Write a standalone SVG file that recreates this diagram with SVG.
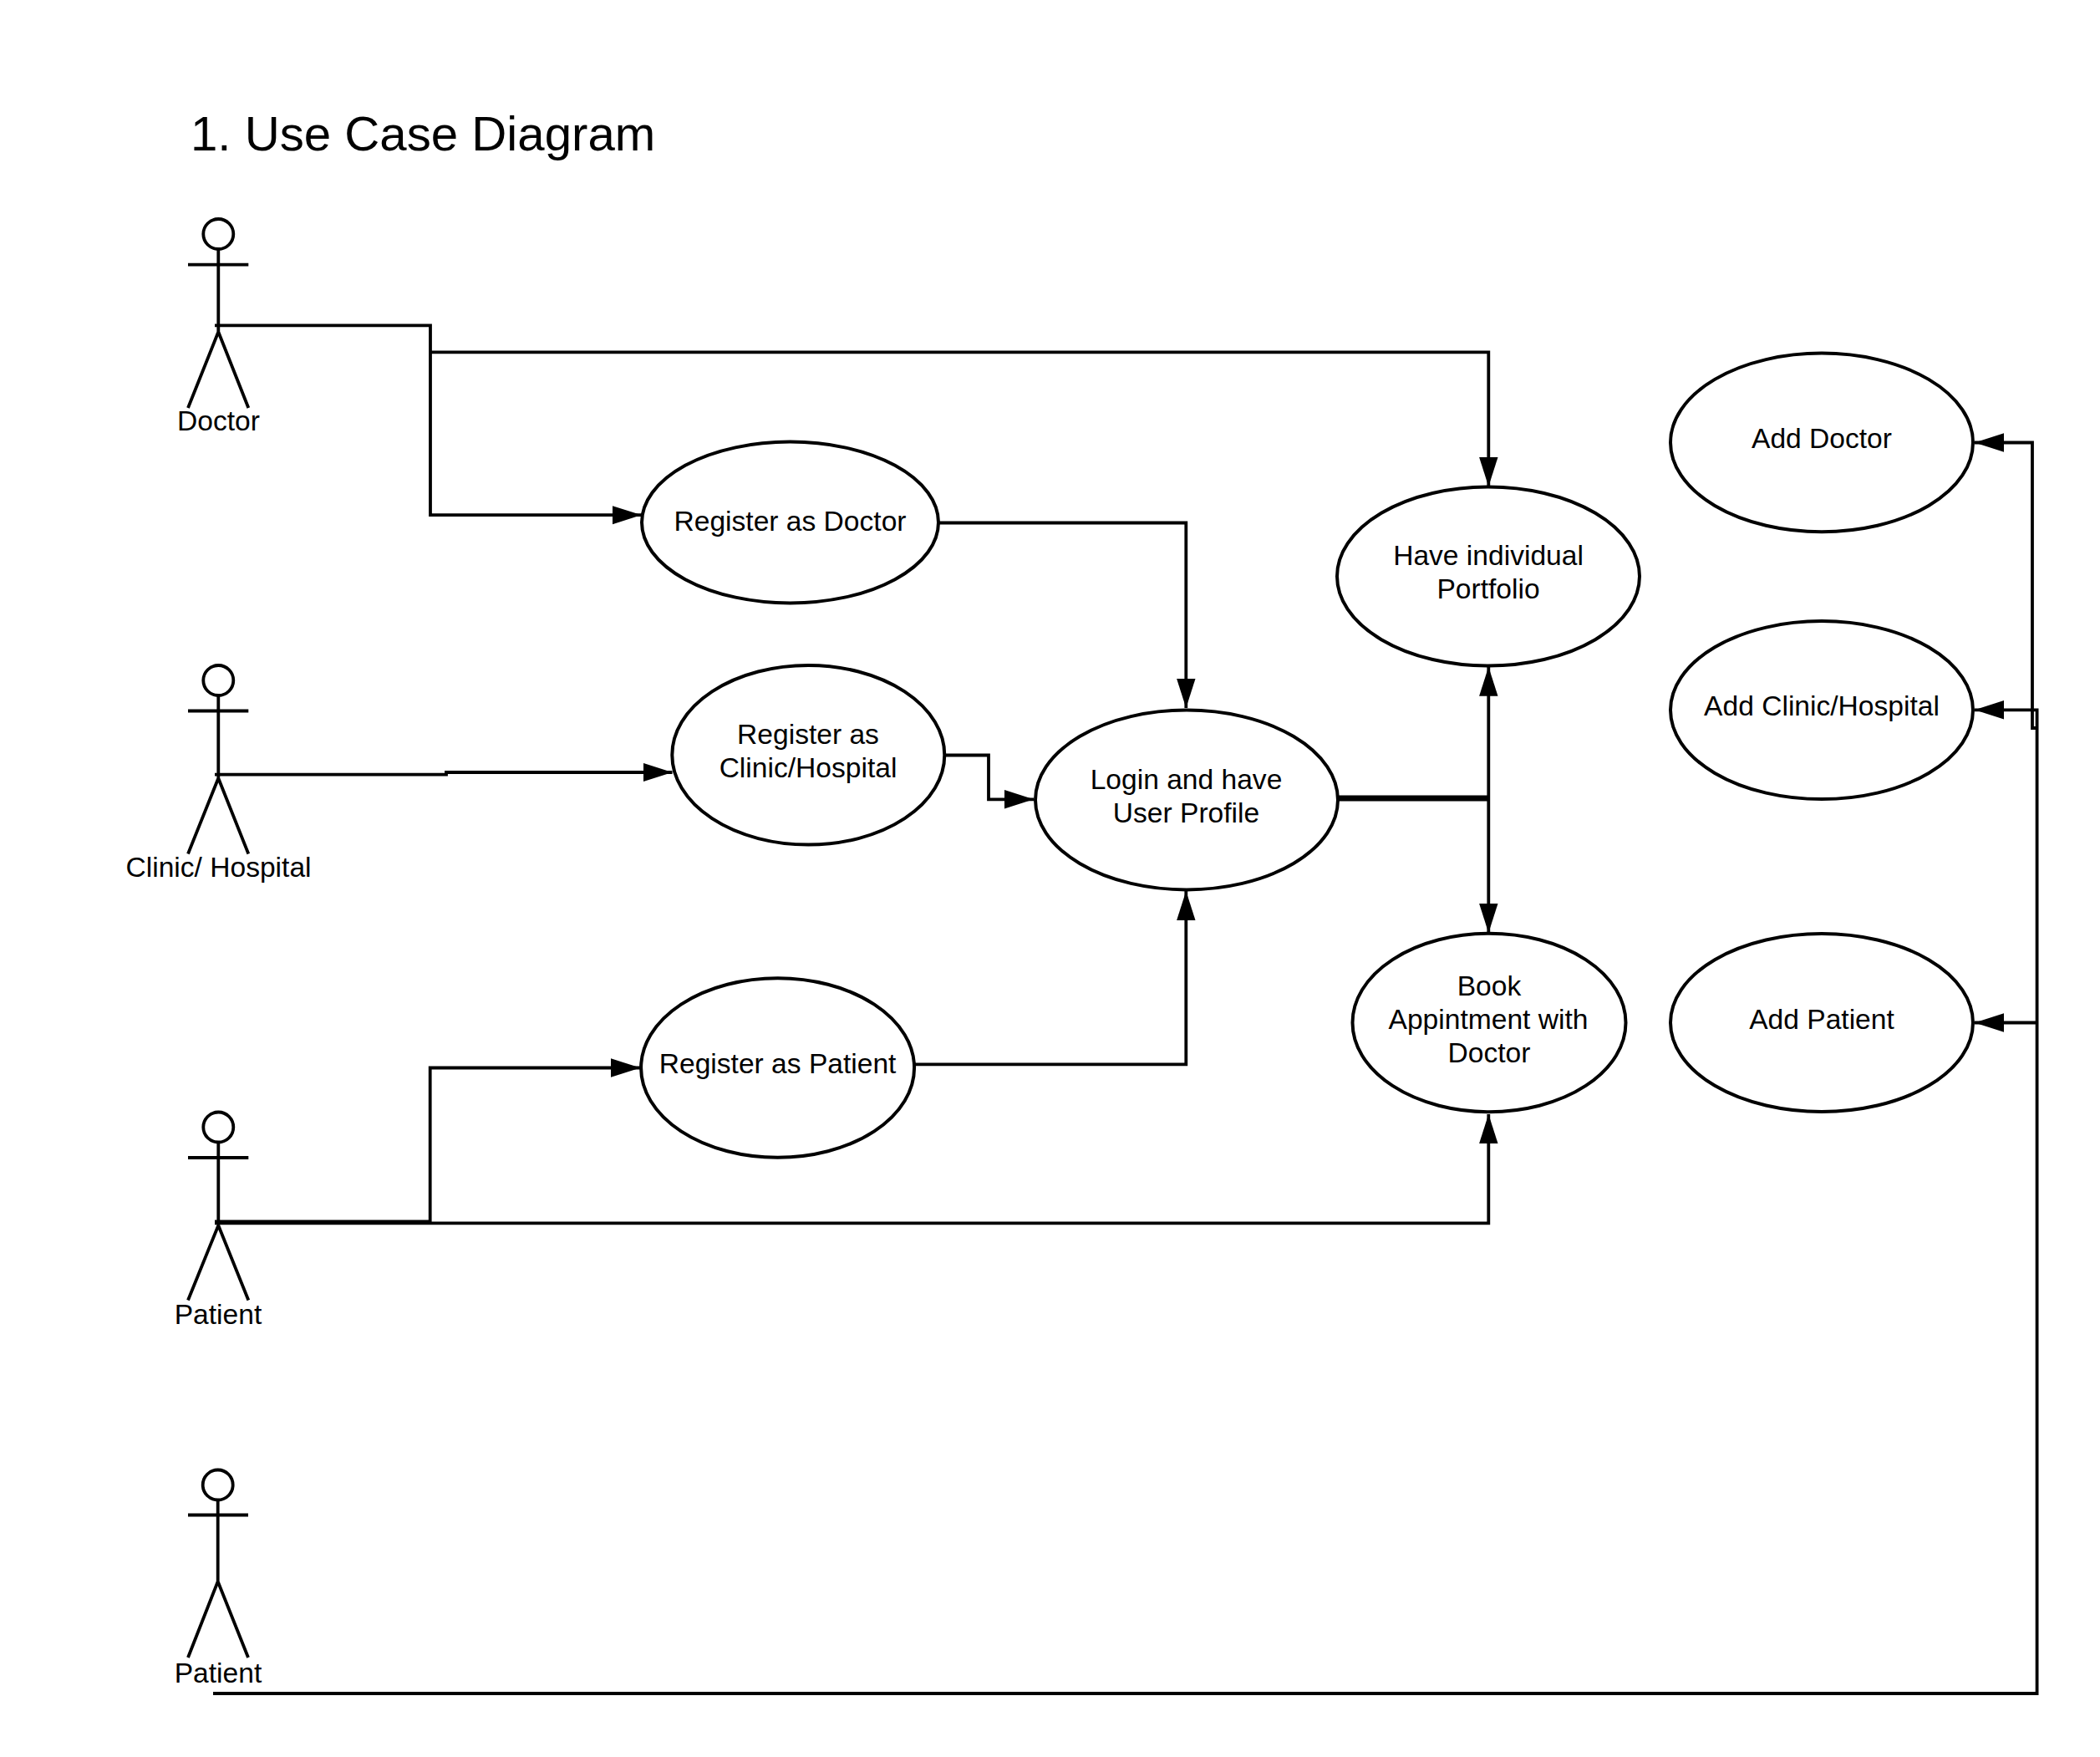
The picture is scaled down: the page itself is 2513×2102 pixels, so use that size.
<svg xmlns="http://www.w3.org/2000/svg" width="2513" height="2102" viewBox="0 0 2513 2102">
<style>
text{font-family:"Liberation Sans",Arial,sans-serif;fill:#000;text-anchor:middle}
.t{font-size:33.6px}
.n ellipse{fill:#fff;stroke:#000;stroke-width:4}
.act *{fill:none;stroke:#000;stroke-width:3.8}
.act text{fill:#000;stroke:none}
#connectors path{fill:none;stroke:#000;stroke-width:3.8}
</style>
<defs>
<marker id="arr" markerUnits="userSpaceOnUse" markerWidth="36" markerHeight="24" refX="35" refY="11.2" orient="auto"><path d="M0 0L35 11.2L0 22.4Z" fill="#000"/></marker>
</defs>
<rect width="2513" height="2102" fill="#fff"/>
<text id="title" x="228" y="180" style="font-size:58.2px;text-anchor:start">1. Use Case Diagram</text>
<g id="connectors">
<path d="M257 389.3H515V616.2H767.5" marker-end="url(#arr)"/>
<path d="M515 421.4H1781.3V582" marker-end="url(#arr)"/>
<path d="M1124 625.5H1419.3V847" marker-end="url(#arr)"/>
<path d="M257 926.7H534V924H804.5" marker-end="url(#arr)"/>
<path d="M1130 903.5H1183V956.3H1237" marker-end="url(#arr)"/>
<path d="M1094 1273.3H1419.3V1066" marker-end="url(#arr)"/>
<path d="M1601 955H1781" style="stroke-width:7"/>
<path d="M1781.3 955V797.7" marker-end="url(#arr)"/>
<path d="M1781.3 955V1116" marker-end="url(#arr)"/>
<path d="M257 1462H514.7V1277.5H766" marker-end="url(#arr)"/>
<path d="M257 1462H514.7" style="stroke-width:5"/>
<path d="M257 1463.4H1781.3V1333" marker-end="url(#arr)"/>
<path d="M2437.6 871H2432V529.5H2363" marker-end="url(#arr)"/>
<path d="M255 2026H2437.6V849.3H2363" marker-end="url(#arr)"/>
<path d="M2437.6 1223.5H2363" marker-end="url(#arr)"/>
</g>
<g id="actor-doctor" class="act"><circle cx="261.3" cy="280" r="18"/><path d="M261.3 298V397M225 316.7H297.3M261.3 397L225 488M261.3 397L297.3 488"/><text class="t" x="261.5" y="515">Doctor</text></g>
<g id="actor-clinic" class="act"><circle cx="261.3" cy="814" r="18"/><path d="M261.3 832V931M225 850.5H297.3M261.3 931L225 1021.5M261.3 931L297.3 1021.5"/><text class="t" x="261.5" y="1048.5">Clinic/ Hospital</text></g>
<g id="actor-patient" class="act"><circle cx="261.3" cy="1348.5" r="18"/><path d="M261.3 1366.5V1466M225 1385H297.3M261.3 1466L225 1555.5M261.3 1466L297.3 1555.5"/><text class="t" x="261" y="1584">Patient</text></g>
<g id="actor-patient2" class="act"><circle cx="260.7" cy="1776.5" r="18"/><path d="M260.7 1794.5V1892M225 1812.5H297M260.7 1892L225 1983M260.7 1892L297 1983"/><text class="t" x="261" y="2012.5">Patient</text></g>
<g id="reg-doctor" class="n"><ellipse cx="945.5" cy="625" rx="177.5" ry="96.4"/><text class="t" x="945.5" y="634.5">Register as Doctor</text></g>
<g id="reg-clinic" class="n"><ellipse cx="967.3" cy="903.3" rx="163" ry="107.3"/><text class="t" x="967" y="890.3">Register as</text><text class="t" x="967" y="929.8">Clinic/Hospital</text></g>
<g id="reg-patient" class="n"><ellipse cx="930.6" cy="1277.5" rx="163.5" ry="107.3"/><text class="t" x="930.6" y="1284">Register as Patient</text></g>
<g id="login" class="n"><ellipse cx="1420" cy="957" rx="181" ry="107.4"/><text class="t" x="1419.5" y="943.5">Login and have</text><text class="t" x="1419.5" y="983.5">User Profile</text></g>
<g id="portfolio" class="n"><ellipse cx="1781" cy="689.5" rx="181" ry="107"/><text class="t" x="1781" y="676">Have individual</text><text class="t" x="1781" y="716">Portfolio</text></g>
<g id="book" class="n"><ellipse cx="1782" cy="1223.5" rx="163.5" ry="106.7"/><text class="t" x="1782" y="1190.5">Book</text><text class="t" x="1781" y="1230.5">Appintment with</text><text class="t" x="1782" y="1271">Doctor</text></g>
<g id="add-doctor" class="n"><ellipse cx="2180" cy="529.4" rx="181" ry="106.8"/><text class="t" x="2180" y="536">Add Doctor</text></g>
<g id="add-clinic" class="n"><ellipse cx="2180" cy="849.6" rx="181" ry="106.5"/><text class="t" x="2180" y="856">Add Clinic/Hospital</text></g>
<g id="add-patient" class="n"><ellipse cx="2180" cy="1223.5" rx="181" ry="106.5"/><text class="t" x="2180" y="1230.6">Add Patient</text></g>
</svg>
